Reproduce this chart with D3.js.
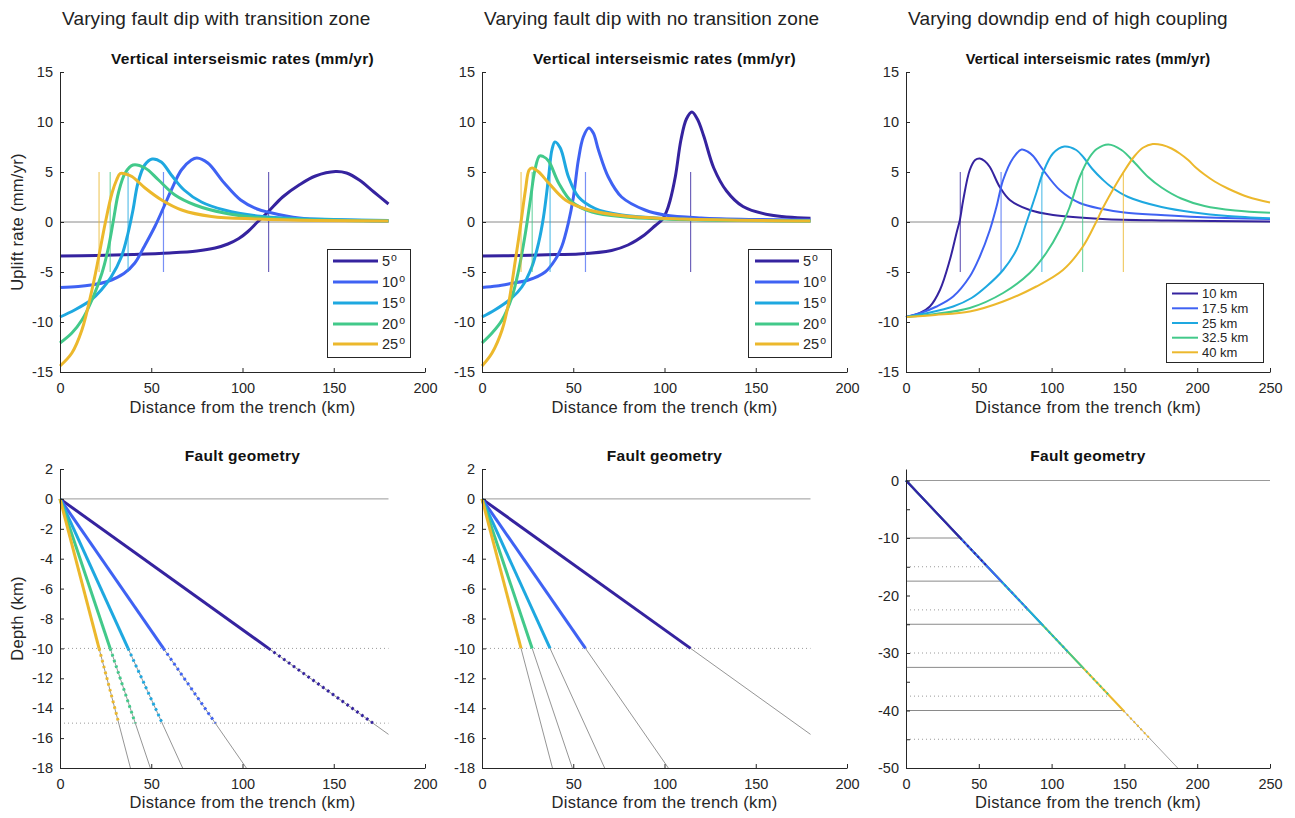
<!DOCTYPE html>
<html><head><meta charset="utf-8">
<script src="https://cdn.jsdelivr.net/npm/d3@7"></script>
<style>
body{margin:0;background:#fff}
svg{display:block}
text{font-family:"Liberation Sans",Arial,Helvetica,sans-serif}
</style>
</head><body>
<svg id="c" width="1295" height="818"></svg>
<script>
// ---------------- DATA ----------------
const dipLabels = ["5","10","15","20","25"];
const depthLabels = ["10 km","17.5 km","25 km","32.5 km","40 km"];
const seriesColors = ["#35239f","#3f62f3","#1ea8e0","#42c98a","#ecb82c"];

const xTicks200 = [0,50,100,150,200];
const xTicks250 = [0,50,100,150,200,250];
const upliftTicks = [-15,-10,-5,0,5,10,15];
const depthTicks = [2,0,-2,-4,-6,-8,-10,-12,-14,-16,-18];
const depthTicks3 = [0,-5,-10,-15,-20,-25,-30,-35,-40,-45,-50];

// Panel 1: varying dip, with transition zone  [distance km, uplift mm/yr]
const tz5  = [[0,-3.4],[20,-3.35],[40,-3.25],[60,-3.1],[75,-2.9],[85,-2.6],[92,-2.2],[98,-1.65],[103,-0.95],[108.5,0.05],[114,1.0],[122,2.5],[131,3.7],[140,4.6],[151,5.05],[157,4.9],[164,4.2],[172,3.0],[180,1.8]];
const tz10 = [[0,-6.55],[10,-6.45],[17,-6.3],[26,-5.95],[35,-5.15],[41,-4.1],[46,-2.5],[52,-0.45],[57,1.55],[61,3.2],[66.5,5.2],[72,6.2],[75,6.4],[81,5.9],[90,3.9],[99,2.2],[108,1.3],[115,0.95],[131,0.4],[150,0.22],[180,0.1]];
const tz15 = [[0,-9.5],[8,-8.8],[17,-7.8],[22.6,-6.8],[28,-5.5],[33.6,-3.5],[37.3,-1.1],[40,1.2],[42.7,3.9],[46.4,5.7],[50.5,6.3],[55.5,6.0],[61,4.7],[68,3.2],[77.5,2.0],[90,1.2],[108,0.6],[130,0.35],[150,0.25],[180,0.15]];
const tz20 = [[0,-12.1],[6.5,-11.1],[12,-9.8],[17.5,-7.8],[23,-5.1],[26.6,-2.5],[29.3,0.2],[32,2.9],[35.7,4.9],[40,5.7],[46.6,5.4],[54,4.2],[63,2.7],[74,1.7],[90,0.9],[108,0.45],[130,0.25],[180,0.1]];
const tz25 = [[0,-14.4],[6.5,-13.1],[12,-10.8],[17.5,-6.8],[21.2,-3.5],[24.8,-0.1],[28.5,2.9],[31,4.2],[33,4.85],[36,4.8],[39.4,4.55],[46.6,3.4],[55.7,2.2],[66.7,1.2],[83,0.55],[108,0.3],[140,0.15],[180,0.1]];

// Panel 2: varying dip, no transition zone
const nt5  = [[0,-3.4],[20,-3.35],[40,-3.25],[53,-3.2],[71,-2.85],[80,-2.3],[89,-1.3],[95,-0.35],[99,0.3],[101,1.0],[103,2.1],[106,4.6],[109,8.2],[112,10.3],[115,11.0],[118,10.3],[121.5,8.6],[127,5.4],[134,3.1],[143,1.55],[158,0.7],[180,0.37]];
const nt10 = [[0,-6.55],[8,-6.4],[16.3,-6.13],[25.4,-5.8],[34.6,-5.0],[40,-3.8],[43.7,-2.45],[47.3,-0.1],[50.1,2.5],[52.8,6.2],[55.5,8.5],[58.5,9.4],[61,8.9],[63.8,7.2],[69.2,4.5],[76.5,2.5],[89.3,1.2],[100,0.7],[120,0.4],[150,0.25],[180,0.2]];
const nt15 = [[0,-9.5],[7,-8.8],[16.3,-7.6],[21.8,-6.5],[27.3,-4.5],[31,-2.1],[33.7,0.5],[36.5,4.5],[38.3,7.2],[40,8.0],[42.9,7.4],[47.4,4.5],[52.9,2.5],[62,1.35],[76.6,0.7],[98.5,0.37],[130,0.2],[180,0.1]];
const nt20 = [[0,-12.1],[5.5,-11.1],[11,-9.8],[16.4,-7.5],[20.1,-4.8],[23.8,-1.1],[26.5,2.2],[29,5.2],[31.5,6.6],[33.5,6.55],[36.5,6.1],[42,3.9],[49.3,2.0],[60.3,1.0],[78.5,0.5],[100,0.3],[140,0.15],[180,0.1]];
const nt25 = [[0,-14.4],[5.5,-13.1],[11,-10.8],[14.6,-8.1],[18.3,-3.8],[21,-0.5],[23.8,3.2],[25.8,5.2],[27.4,5.4],[31.1,5.0],[36.5,3.9],[45.7,2.2],[58.5,1.2],[78.6,0.6],[110,0.3],[180,0.1]];

// Panel 3: varying downdip end of high coupling
const dd10 = [[0,-9.5],[9.6,-9.1],[16.4,-8.45],[23.3,-6.8],[30.1,-3.8],[34.7,-1.1],[37,0.2],[39.3,2.2],[43.8,5.2],[47.5,6.2],[50.7,6.35],[54,6.1],[57.6,5.5],[64.4,3.5],[71.3,2.2],[85,1.2],[101,0.7],[135,0.3],[180,0.15],[250,0.05]];
const dd17 = [[0,-9.5],[10,-9.1],[21,-8.45],[32.4,-7.45],[43.8,-5.45],[50.7,-3.45],[57.6,-0.8],[62.1,1.5],[66.7,4.2],[73.6,6.4],[79.4,7.25],[83.5,7.05],[87.3,6.6],[94.2,5.2],[105.6,3.2],[119.3,1.9],[135,1.3],[150,0.95],[175,0.7],[200,0.5],[250,0.3]];
const dd25 = [[0,-9.5],[15,-9.1],[32.4,-8.45],[45,-7.6],[55.2,-6.45],[66.7,-4.8],[75.8,-2.8],[82.6,-0.1],[89.5,2.9],[94,4.9],[100.9,6.85],[108.7,7.55],[116.9,7.2],[122,6.45],[128,5.3],[135,4.25],[141,3.5],[152.6,2.5],[175.5,1.5],[198,0.95],[221,0.6],[250,0.37]];
const dd32 = [[0,-9.5],[20,-9.2],[43.8,-8.6],[66.7,-7.1],[85,-5.1],[96.3,-3.1],[105.6,-0.8],[112.4,1.5],[119.3,4.5],[126.2,6.5],[131,7.3],[139,7.75],[148,7.2],[157.2,5.9],[166.3,4.5],[175.5,3.45],[189,2.35],[205,1.6],[226,1.15],[250,0.93]];
const dd40 = [[0,-9.5],[20,-9.3],[43.8,-8.95],[66.7,-7.95],[89.5,-6.45],[107.8,-4.8],[121.5,-2.45],[130.6,0],[135.2,1.4],[143.6,3.6],[149,4.9],[157,6.6],[163,7.45],[169.5,7.8],[176,7.7],[182.4,7.35],[188,6.85],[193.8,6.2],[199,5.45],[205,4.75],[212,4.05],[221,3.35],[235,2.5],[250,1.95]];

// Fault geometry, panels 1-2 (dips 5..25 deg)
const lockX = [114.3, 56.7, 37.3, 27.5, 21.4];     // distance at 10 km depth
const transX = [171.5, 85.1, 56.0, 41.2, 32.2];    // distance at 15 km depth
const tailEnd = [[180,-15.75],[102.1,-18],[67.2,-18],[49.5,-18],[38.6,-18]];
const lockDepth = -10, transDepth = -15;
const surfaceEnd12 = 180;

// Fault geometry, panel 3 (dip 15 deg)
const coupDepth = [-10,-17.5,-25,-32.5,-40];
const coupX = [37.3,65.3,93.3,121.3,149.3];
const coupTransDepth = [-15,-22.5,-30,-37.5,-45];
const coupTransX = [56.0,84.0,112.0,140.0,167.9];
const faultEnd3 = [186.6,-50];
const surfaceEnd3 = 250;

// ---------------- DRAWING ----------------
const svg = d3.select("#c");
const AX = "#262626";
const tzSeries = [tz5,tz10,tz15,tz20,tz25];
const ntSeries = [nt5,nt10,nt15,nt20,nt25];
const ddSeries = [dd10,dd17,dd25,dd32,dd40];

const yTop = d3.scaleLinear().domain([-15,15]).range([372,72]);
const yBot = d3.scaleLinear().domain([-18,2]).range([768,469]);
const yBot3 = d3.scaleLinear().domain([-50,2]).range([768,469]);
const x1 = d3.scaleLinear().domain([0,200]).range([60,425]);
const x2 = d3.scaleLinear().domain([0,200]).range([482,847]);
const x3 = d3.scaleLinear().domain([0,250]).range([906,1270]);

function drawAxes(x, y, xt, yt, yFmt){
  const gx = svg.append("g").attr("transform",`translate(0,${y.range()[0]})`)
    .call(d3.axisBottom(x).tickValues(xt).tickSize(-4).tickSizeOuter(0).tickPadding(11).tickFormat(d=>String(d)));
  const gy = svg.append("g").attr("transform",`translate(${x.range()[0]},0)`)
    .call(d3.axisLeft(y).tickValues(yt).tickSize(-4).tickSizeOuter(0).tickPadding(7).tickFormat(yFmt || (d=>String(d))));
  [gx,gy].forEach(g=>{
    g.select(".domain").attr("stroke",AX);
    g.selectAll(".tick line").attr("stroke",AX);
    g.selectAll("text").attr("fill",AX).style("font-size","14.5px")
      .style("font-family",'"Liberation Sans",Arial,sans-serif');
  });
}

function title(x, y, txt, size, ls){
  svg.append("text").attr("x",d3.mean(x.range())).attr("y",y).attr("text-anchor","middle")
    .attr("font-weight","bold").attr("font-size",size).attr("letter-spacing",ls).attr("fill","#111").text(txt);
}
function xlabel(x, y, txt){
  svg.append("text").attr("x",d3.mean(x.range())).attr("y",y).attr("text-anchor","middle")
    .attr("font-size","16.5px").attr("letter-spacing","0.3px").attr("fill",AX).text(txt);
}
function ylabel(yScale, txt){
  svg.append("text").attr("transform",`translate(23,${d3.mean(yScale.range())}) rotate(-90)`)
    .attr("text-anchor","middle").attr("font-size","16.5px").attr("letter-spacing","0.3px").attr("fill",AX).text(txt);
}

function topPanel(x, series, marks, lw, zeroEnd){
  svg.append("line").attr("x1",x(0)).attr("x2",x(zeroEnd)).attr("y1",yTop(0)).attr("y2",yTop(0))
    .attr("stroke","#8a8a8a").attr("stroke-width",1);
  const line = d3.line().x(d=>x(d[0])).y(d=>yTop(d[1])).curve(d3.curveCatmullRom.alpha(0.5));
  series.forEach((s,i)=>{
    svg.append("path").attr("d",line(s)).attr("fill","none").attr("stroke",seriesColors[i])
      .attr("stroke-width",lw).attr("stroke-linejoin","round");
    svg.append("line").attr("x1",x(marks[i])).attr("x2",x(marks[i])).attr("y1",yTop(-5)).attr("y2",yTop(5))
      .attr("stroke",seriesColors[i]).attr("stroke-width",1.2).attr("opacity",0.7);
  });
}

function legend(box, rows, lineX, textX, labels, lw, fs, deg){
  svg.append("rect").attr("x",box[0]+0.5).attr("y",box[1]+0.5).attr("width",box[2]).attr("height",box[3])
    .attr("fill","#fff").attr("stroke",AX).attr("stroke-width",1);
  labels.forEach((l,i)=>{
    svg.append("line").attr("x1",lineX[0]).attr("x2",lineX[1]).attr("y1",rows[i]).attr("y2",rows[i])
      .attr("stroke",seriesColors[i]).attr("stroke-width",lw);
    const t = svg.append("text").attr("x",textX).attr("y",rows[i]).attr("dy","0.36em")
      .attr("font-size",fs).attr("fill",AX).text(l);
    if(deg) t.append("tspan").attr("dx","1").attr("dy","-0.45em").attr("font-size","10.5px").text("o");
  });
}

// Column headings
[["Varying fault dip with transition zone",x1],["Varying fault dip with no transition zone",x2],["Varying downdip end of high coupling",x3]]
 .forEach(([t,x])=>{
   svg.append("text").attr("x",x.range()[0]+2).attr("y",25).attr("font-size","19px")
     .attr("letter-spacing","0.15px").attr("fill","#222").text(t);
 });

// ---- Top panels ----
topPanel(x1, tzSeries, lockX, 3, 180);
topPanel(x2, ntSeries, lockX, 3, 180);
topPanel(x3, ddSeries, coupX, 2, 250);
drawAxes(x1, yTop, xTicks200, upliftTicks);
drawAxes(x2, yTop, xTicks200, upliftTicks);
drawAxes(x3, yTop, xTicks250, upliftTicks);
title(x1, 64, "Vertical interseismic rates (mm/yr)", "15.5px", "0.3px");
title(x2, 64, "Vertical interseismic rates (mm/yr)", "15.5px", "0.3px");
title(x3, 64, "Vertical interseismic rates (mm/yr)", "14.6px", "0.2px");
xlabel(x1, 413, "Distance from the trench (km)");
xlabel(x2, 413, "Distance from the trench (km)");
xlabel(x3, 413, "Distance from the trench (km)");
ylabel(yTop, "Uplift rate (mm/yr)");
legend([327,249,83,108],[261,282,303,324,344],[333,378],382,dipLabels,3,"14.5px",true);
legend([748,249,83,108],[261,282,303,324,344],[755,799],803,dipLabels,3,"14.5px",true);
legend([1166,283,97,79],[293.5,308.3,323,337.7,352.3],[1172,1198],1202,depthLabels,2,"13px",false);

// ---- Bottom panels 1 & 2 ----
function faultPanel(x, withTransition){
  const g = svg.append("g");
  g.append("line").attr("x1",x(0)).attr("x2",x(surfaceEnd12)).attr("y1",yBot(0)).attr("y2",yBot(0))
    .attr("stroke","#999").attr("stroke-width",1);
  const dottedDepths = withTransition ? [lockDepth, transDepth] : [lockDepth];
  dottedDepths.forEach(d=>{
    g.append("line").attr("x1",x(0)).attr("x2",x(surfaceEnd12)).attr("y1",yBot(d)).attr("y2",yBot(d))
      .attr("stroke","#9a9a9a").attr("stroke-width",1).attr("stroke-dasharray","1,3");
  });
  lockX.forEach((lx,i)=>{
    g.append("line").attr("x1",x(lx)).attr("y1",yBot(lockDepth)).attr("x2",x(tailEnd[i][0])).attr("y2",yBot(tailEnd[i][1]))
      .attr("stroke","#7a7a7a").attr("stroke-width",0.8);
    g.append("line").attr("x1",x(0)).attr("y1",yBot(0)).attr("x2",x(lx)).attr("y2",yBot(lockDepth))
      .attr("stroke",seriesColors[i]).attr("stroke-width",3);
    if(withTransition){
      g.append("line").attr("x1",x(lx)).attr("y1",yBot(lockDepth)).attr("x2",x(transX[i])).attr("y2",yBot(transDepth))
        .attr("stroke",seriesColors[i]).attr("stroke-width",3).attr("stroke-dasharray","2.5,3.5");
    }
  });
}
faultPanel(x1, true);
faultPanel(x2, false);
drawAxes(x1, yBot, xTicks200, depthTicks);
drawAxes(x2, yBot, xTicks200, depthTicks);
title(x1, 461, "Fault geometry", "15.5px", "0.3px");
title(x2, 461, "Fault geometry", "15.5px", "0.3px");
xlabel(x1, 808, "Distance from the trench (km)");
xlabel(x2, 808, "Distance from the trench (km)");
ylabel(yBot, "Depth (km)");

// ---- Bottom panel 3 ----
(function(){
  const g = svg.append("g");
  g.append("line").attr("x1",x3(0)).attr("x2",x3(surfaceEnd3)).attr("y1",yBot3(0)).attr("y2",yBot3(0))
    .attr("stroke","#999").attr("stroke-width",1);
  coupDepth.forEach((d,i)=>{
    g.append("line").attr("x1",x3(0)).attr("x2",x3(coupX[i])).attr("y1",yBot3(d)).attr("y2",yBot3(d))
      .attr("stroke","#8a8a8a").attr("stroke-width",1);
    g.append("line").attr("x1",x3(0)).attr("x2",x3(coupTransX[i])).attr("y1",yBot3(coupTransDepth[i])).attr("y2",yBot3(coupTransDepth[i]))
      .attr("stroke","#9a9a9a").attr("stroke-width",1).attr("stroke-dasharray","1,3");
  });
  g.append("line").attr("x1",x3(0)).attr("y1",yBot3(0)).attr("x2",x3(faultEnd3[0])).attr("y2",yBot3(faultEnd3[1]))
    .attr("stroke","#8a8a8a").attr("stroke-width",0.8);
  for(let i=coupDepth.length-1;i>=0;i--){
    g.append("line").attr("x1",x3(0)).attr("y1",yBot3(0)).attr("x2",x3(coupX[i])).attr("y2",yBot3(coupDepth[i]))
      .attr("stroke",seriesColors[i]).attr("stroke-width",2);
    g.append("line").attr("x1",x3(coupX[i])).attr("y1",yBot3(coupDepth[i])).attr("x2",x3(coupTransX[i])).attr("y2",yBot3(coupTransDepth[i]))
      .attr("stroke",seriesColors[i]).attr("stroke-width",2).attr("stroke-dasharray","2,3");
  }
})();
drawAxes(x3, yBot3, xTicks250, depthTicks3, d => d % 10 === 0 ? String(d) : "");
title(x3, 461, "Fault geometry", "15.5px", "0.3px");
xlabel(x3, 808, "Distance from the trench (km)");
</script>
</body></html>
